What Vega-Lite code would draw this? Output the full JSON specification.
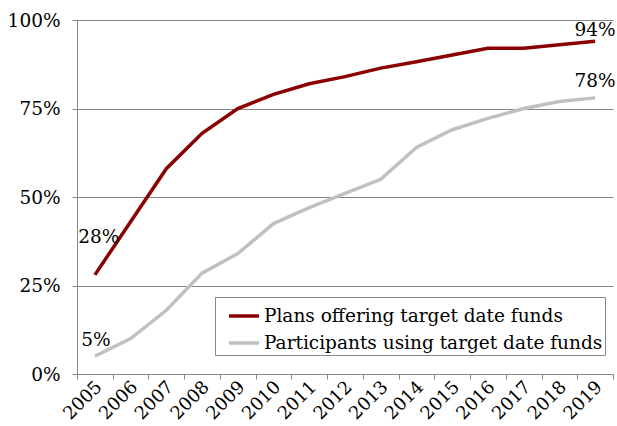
{
  "$schema": "https://vega.github.io/schema/vega-lite/v6.json",
  "width": 536,
  "height": 354,
  "autosize": {"type": "none"},
  "padding": {"left": 77, "top": 20, "right": 4, "bottom": 52},
  "background": "white",
  "config": {
    "view": {"stroke": null},
    "font": "DejaVu Serif",
    "axis": {"labelFont": "DejaVu Serif", "labelColor": "#000", "domainColor": "#888", "tickColor": "#888", "gridColor": "#888"},
    "legend": {"labelFont": "DejaVu Serif", "labelColor": "#000"},
    "text": {"font": "DejaVu Serif"}
  },
  "datasets": {
    "series": [
      {"year": "2005", "series": "Plans offering target date funds", "value": 28},
      {"year": "2006", "series": "Plans offering target date funds", "value": 43},
      {"year": "2007", "series": "Plans offering target date funds", "value": 58},
      {"year": "2008", "series": "Plans offering target date funds", "value": 68},
      {"year": "2009", "series": "Plans offering target date funds", "value": 75},
      {"year": "2010", "series": "Plans offering target date funds", "value": 79},
      {"year": "2011", "series": "Plans offering target date funds", "value": 82},
      {"year": "2012", "series": "Plans offering target date funds", "value": 84},
      {"year": "2013", "series": "Plans offering target date funds", "value": 86.4},
      {"year": "2014", "series": "Plans offering target date funds", "value": 88.2},
      {"year": "2015", "series": "Plans offering target date funds", "value": 90.1},
      {"year": "2016", "series": "Plans offering target date funds", "value": 92},
      {"year": "2017", "series": "Plans offering target date funds", "value": 92},
      {"year": "2018", "series": "Plans offering target date funds", "value": 93},
      {"year": "2019", "series": "Plans offering target date funds", "value": 94},
      {"year": "2005", "series": "Participants using target date funds", "value": 5},
      {"year": "2006", "series": "Participants using target date funds", "value": 10},
      {"year": "2007", "series": "Participants using target date funds", "value": 18},
      {"year": "2008", "series": "Participants using target date funds", "value": 28.5},
      {"year": "2009", "series": "Participants using target date funds", "value": 34},
      {"year": "2010", "series": "Participants using target date funds", "value": 42.5},
      {"year": "2011", "series": "Participants using target date funds", "value": 47},
      {"year": "2012", "series": "Participants using target date funds", "value": 51},
      {"year": "2013", "series": "Participants using target date funds", "value": 55},
      {"year": "2014", "series": "Participants using target date funds", "value": 64},
      {"year": "2015", "series": "Participants using target date funds", "value": 69},
      {"year": "2016", "series": "Participants using target date funds", "value": 72.2},
      {"year": "2017", "series": "Participants using target date funds", "value": 75},
      {"year": "2018", "series": "Participants using target date funds", "value": 77},
      {"year": "2019", "series": "Participants using target date funds", "value": 78}
    ],
    "labels": [
      {"year": "2005", "value": 28, "label": "28%", "key": "a"},
      {"year": "2005", "value": 5, "label": "5%", "key": "b"},
      {"year": "2019", "value": 94, "label": "94%", "key": "c"},
      {"year": "2019", "value": 78, "label": "78%", "key": "d"}
    ]
  },
  "layer": [
    {
      "data": {"name": "series"},
      "mark": {"type": "line", "strokeWidth": 3.5},
      "encoding": {
        "x": {
          "field": "year", "type": "ordinal",
          "scale": {"type": "band", "paddingInner": 0, "paddingOuter": 0},
          "axis": {"title": null, "labelAngle": -45, "labelAlign": "right", "labelBaseline": "middle", "labelFontSize": 18, "labelPadding": 5, "tickBand": "extent", "tickSize": 5, "domainColor": "#888", "grid": false, "labelOffset": 4}
        },
        "y": {
          "field": "value", "type": "quantitative",
          "scale": {"domain": [0, 100], "nice": false},
          "axis": {"title": null, "values": [0, 25, 50, 75, 100], "labelExpr": "datum.value + '%'", "labelFontSize": 18.5, "tickSize": 5, "labelPadding": 12, "grid": true, "gridColor": "#888", "domain": true}
        },
        "color": {
          "field": "series", "type": "nominal",
          "scale": {"domain": ["Plans offering target date funds", "Participants using target date funds"], "range": ["#8B0000", "#C0C0C0"]},
          "legend": {
            "title": null, "orient": "none", "legendX": 138, "legendY": 277,
            "symbolType": "stroke", "symbolSize": 900, "symbolStrokeWidth": 3.5, "symbolOffset": 10,
            "labelFontSize": 18.5, "labelOffset": 3, "rowPadding": -5,
            "strokeColor": "#888", "fillColor": "white", "padding": 2, "labelLimit": 400
          }
        }
      }
    },
    {
      "data": {"name": "labels"},
      "transform": [{"filter": "datum.key == 'a'"}],
      "mark": {"type": "text", "fontSize": 18.5, "dx": 4, "dy": -38, "baseline": "middle"},
      "encoding": {"x": {"field": "year", "type": "ordinal"}, "y": {"field": "value", "type": "quantitative"}, "text": {"field": "label"}}
    },
    {
      "data": {"name": "labels"},
      "transform": [{"filter": "datum.key == 'b'"}],
      "mark": {"type": "text", "fontSize": 18.5, "dx": 1, "dy": -16, "baseline": "middle"},
      "encoding": {"x": {"field": "year", "type": "ordinal"}, "y": {"field": "value", "type": "quantitative"}, "text": {"field": "label"}}
    },
    {
      "data": {"name": "labels"},
      "transform": [{"filter": "datum.key == 'c'"}],
      "mark": {"type": "text", "fontSize": 18.5, "dx": 0, "dy": -11, "baseline": "middle"},
      "encoding": {"x": {"field": "year", "type": "ordinal"}, "y": {"field": "value", "type": "quantitative"}, "text": {"field": "label"}}
    },
    {
      "data": {"name": "labels"},
      "transform": [{"filter": "datum.key == 'd'"}],
      "mark": {"type": "text", "fontSize": 18.5, "dx": 0, "dy": -17, "baseline": "middle"},
      "encoding": {"x": {"field": "year", "type": "ordinal"}, "y": {"field": "value", "type": "quantitative"}, "text": {"field": "label"}}
    }
  ]
}
